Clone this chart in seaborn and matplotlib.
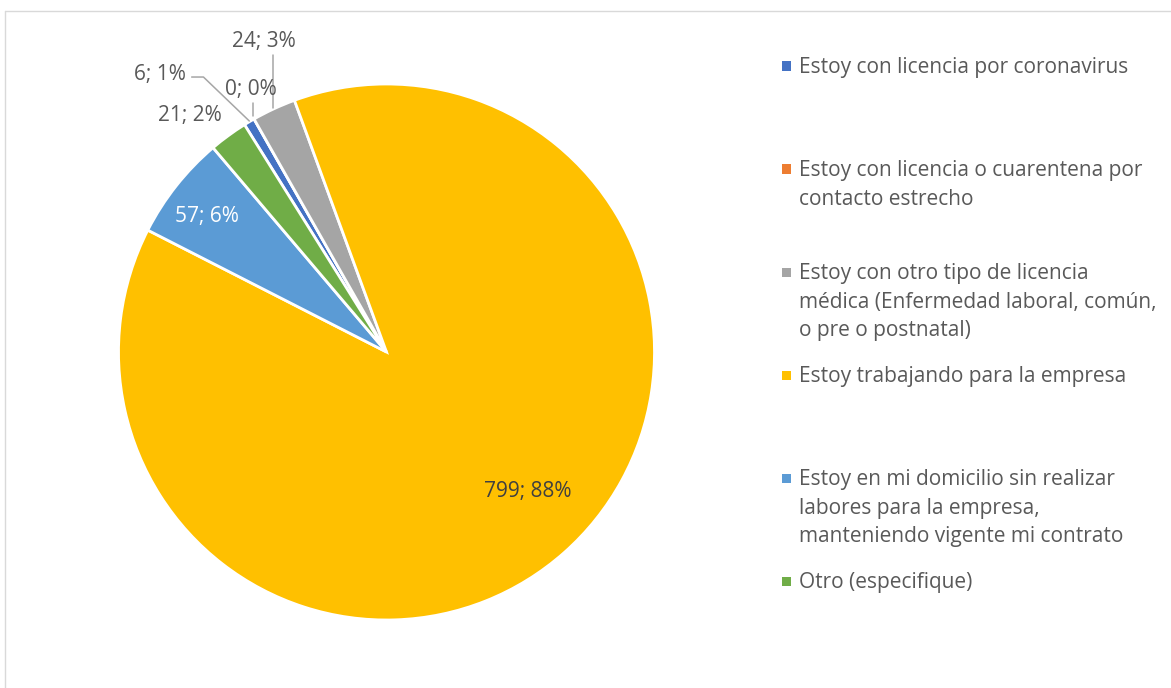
import matplotlib
matplotlib.use("Agg")
import matplotlib.pyplot as plt
from matplotlib.patches import Rectangle
from matplotlib.lines import Line2D
import seaborn as sns

# ---- data ----
categories = [
    "Estoy con licencia por coronavirus",
    "Estoy con licencia o cuarentena por\ncontacto estrecho",
    "Estoy con otro tipo de licencia\nmédica (Enfermedad laboral, común,\no pre o postnatal)",
    "Estoy trabajando para la empresa",
    "Estoy en mi domicilio sin realizar\nlabores para la empresa,\nmanteniendo vigente mi contrato",
    "Otro (especifique)",
]
values = [6, 0, 24, 799, 57, 21]
colors = ["#4472C4", "#ED7D31", "#A5A5A5", "#FFC000", "#5B9BD5", "#70AD47"]

sns.set_theme(style="white")
plt.rcParams["font.family"] = ["Open Sans", "DejaVu Sans"]

W, H = 1171, 688
fig = plt.figure(figsize=(W / 100, H / 100), dpi=100)
fig.patch.set_facecolor("white")

def fx(px):
    return px / W

def fy(py):
    return 1 - py / H

# chart border (top and left visible)
fig.add_artist(Line2D([fx(5.5), fx(1171)], [fy(10.5), fy(10.5)], color="#D9D9D9", lw=1.0))
fig.add_artist(Line2D([fx(5.5), fx(5.5)], [fy(10.5), fy(688)], color="#D9D9D9", lw=1.0))

ax = fig.add_axes([fx(118), fy(620), (655 - 118) / W, (620 - 84) / H])
wedges, _ = ax.pie(values, colors=colors, startangle=122, counterclock=False,
                   radius=1, wedgeprops=dict(edgecolor="white", linewidth=2.0))
ax.set_xlim(-1, 1)
ax.set_ylim(-1, 1)
ax.axis("off")

total = sum(values)
labels = [f"{v}; {round(100 * v / total)}%" for v in values]
label_pos = [(-0.844, 1.034), (-0.505, 0.978), (-0.459, 1.157),
             (0.527, -0.522), (-0.669, 0.507), (-0.732, 0.881)]
label_col = ["#595959", "#595959", "#595959", "#404040", "white", "#595959"]
fs = 15.0
for lab, (x, y), c in zip(labels, label_pos, label_col):
    ax.text(x, y, lab, ha="center", va="center", fontsize=fs, color=c, clip_on=False)

# leader lines
lc = "#A6A6A6"
ax.plot([-0.727, -0.683, -0.512], [1.026, 1.026, 0.862], color=lc, lw=1.1, clip_on=False)
ax.plot([-0.497, -0.497], [0.929, 0.880], color=lc, lw=1.1, clip_on=False)
ax.plot([-0.423, -0.423], [1.108, 0.910], color=lc, lw=1.1, clip_on=False)

# legend (manual, Excel-like spacing)
y0, step, lstep = 66, 103, 28.7
for i, (cat, col) in enumerate(zip(categories, colors)):
    yc = y0 + i * step
    fig.add_artist(Rectangle((fx(782), fy(yc + 4.5)), 9 / W, 9 / H,
                             facecolor=col, edgecolor="none", transform=fig.transFigure))
    for j, line in enumerate(cat.split("\n")):
        fig.text(fx(799), fy(yc + 7 + j * lstep), line, ha="left", va="baseline",
                 fontsize=fs, color="#595959")

fig.savefig("out.png", dpi=100, facecolor="white")
